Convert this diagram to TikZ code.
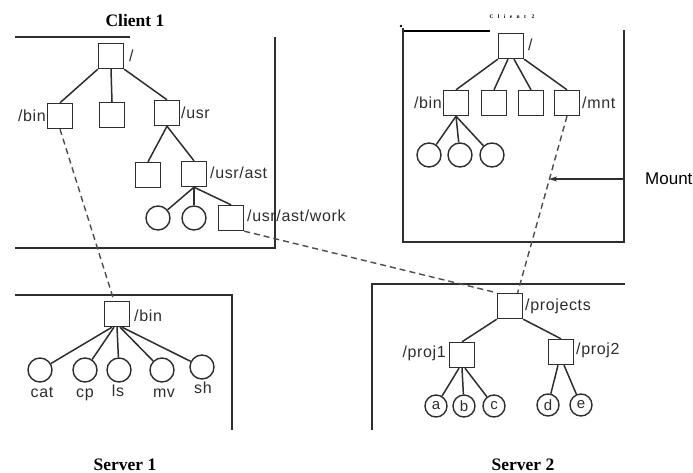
\documentclass[tikz,border=0pt]{standalone}
\usepackage{fontspec}
\usetikzlibrary{arrows.meta}
\newfontfamily\lab[LetterSpace=4]{Liberation Sans}
\newfontfamily\mountfont{Liberation Sans}
\newfontfamily\ser{Liberation Serif}
\newfontfamily\cltwo[LetterSpace=80]{Liberation Serif}
\definecolor{ln}{HTML}{2E2E2E}
\tikzset{
  sq/.style={draw=ln, line width=1.4pt, minimum size=25pt, inner sep=0pt},
  cr/.style={draw=ln, circle, line width=1.4pt, minimum size=24pt, inner sep=0pt},
  crs/.style={draw=ln, circle, line width=1.4pt, minimum size=22pt, inner sep=0pt,
              font=\lab\fontsize{15}{15}\selectfont, text=ln},
  lbl/.style={font=\lab\fontsize{16}{16}\selectfont, text=ln, inner sep=0pt},
  treeline/.style={draw=ln, line width=1.5pt},
  boxline/.style={draw=ln, line width=1.4pt},
  mountline/.style={draw=ln!85, line width=1.4pt, dash pattern=on 6pt off 4pt},
  ttl/.style={font=\ser\bfseries\fontsize{17.5}{17.5}\selectfont, inner sep=0pt}
}
\begin{document}
\begin{tikzpicture}[x=1pt,y=-1pt]
\useasboundingbox (0,0) rectangle (693,473);
\fill[white] (0,0) rectangle (693,473);

% ---------- Client 1 ----------
\node[ttl] (t1) at (135,21) {Client 1};
\draw[boxline] (15,37) -- (130,37);
\draw[boxline] (275,37) -- (275,248) -- (15,248);

\node[sq] (r1) at (111,56) {};
\node[sq] (b1) at (60,116) {};
\node[sq] (m1) at (112,115) {};
\node[sq] (u1) at (167,113) {};
\node[sq] (u1a) at (148,175) {};
\node[sq] (ast) at (194,174) {};
\node[cr] (c1a) at (158,218) {};
\node[cr] (c1b) at (194,218) {};
\node[sq] (work) at (231,218) {};

\node[lbl,anchor=west] (lr1) at (129,56) {/};
\node[lbl,anchor=east] (lb1) at (46,116) {/bin};
\node[lbl,anchor=west] (lu1) at (181,113) {/usr};
\node[lbl,anchor=west] (last) at (210,173) {/usr/ast};
\node[lbl,anchor=west] (lwork) at (247,216) {/usr/ast/work};

\draw[treeline] (r1.south west) -- (b1.north);
\draw[treeline] (r1.south) -- (m1.north);
\draw[treeline] (r1.south east) -- (u1.north);
\draw[treeline] (u1.south) -- (u1a.north);
\draw[treeline] (u1.south) -- (ast.north);
\draw[treeline] (ast.south) -- (c1a);
\draw[treeline] (ast.south) -- (c1b);
\draw[treeline] (ast.south) -- (work.north);

% ---------- Client 2 ----------
\node[font=\cltwo\bfseries\fontsize{5.5}{5.5}\selectfont, inner sep=0pt] (t2) at (512,17) {Client 2};
\fill (401,26) circle (1.3pt);
\draw[line width=2pt] (404,31) -- (490,31);
\draw[boxline] (403,28) -- (403,242) -- (624,242) -- (624,30);

\node[sq] (r2) at (511,46) {};
\node[sq] (b2) at (456,103) {};
\node[sq] (s2a) at (494,103) {};
\node[sq] (s2b) at (531,103) {};
\node[sq] (mnt) at (567,103) {};
\node[cr] (c2a) at (429,155) {};
\node[cr] (c2b) at (460,155) {};
\node[cr] (c2c) at (492,155) {};

\node[lbl,anchor=west] (lr2) at (528,45) {/};
\node[lbl,anchor=east] (lb2) at (442,103) {/bin};
\node[lbl,anchor=west] (lmnt) at (582,103) {/mnt};

\draw[treeline] (r2.south west) -- (b2.north);
\draw[treeline] ([xshift=-3pt]r2.south) -- (s2a.north);
\draw[treeline] ([xshift=3pt]r2.south) -- (s2b.north);
\draw[treeline] (r2.south east) -- (mnt.north);
\draw[treeline] (b2.south) -- (c2a);
\draw[treeline] (b2.south) -- (c2b);
\draw[treeline] (b2.south) -- (c2c);

% Mount arrow
\coordinate (mstart) at (625,179);
\coordinate (mend) at (549,179);
\draw[draw=ln, line width=1.4pt, -{Stealth[length=8pt,width=5pt]}] (mstart) -- (mend);
\node[font=\mountfont\fontsize{17}{17}\selectfont, anchor=west, inner sep=0pt] (mlabel) at (645,179) {Mount};

% ---------- Server 1 ----------
\draw[boxline] (15,295) -- (232,295) -- (232,430);
\node[sq] (sb) at (117,314) {};
\node[lbl,anchor=west] (lsb) at (134,316) {/bin};
\node[cr] (cat) at (40,370) {};
\node[cr] (cp) at (85,370) {};
\node[cr] (ls) at (119,370) {};
\node[cr] (mv) at (162,370) {};
\node[cr] (sh) at (202,367) {};
\node[lbl,anchor=base] (lcat) at (42,397) {cat};
\node[lbl,anchor=base] (lcp) at (85,397) {cp};
\node[lbl,anchor=base] (lls) at (118,396) {ls};
\node[lbl,anchor=base] (lmv) at (164,397) {mv};
\node[lbl,anchor=base] (lsh) at (203,393) {sh};
\draw[treeline] ([xshift=-5pt]sb.south) -- (cat);
\draw[treeline] ([xshift=-3pt]sb.south) -- (cp);
\draw[treeline] (sb.south) -- (ls);
\draw[treeline] ([xshift=3pt]sb.south) -- (mv);
\draw[treeline] ([xshift=5pt]sb.south) -- (sh);
\node[ttl] (ts1) at (125,465) {Server 1};

% ---------- Server 2 ----------
\draw[boxline] (625,284) -- (372,284) -- (372,430);
\node[sq] (proj) at (510,306) {};
\node[sq] (p1) at (462,355) {};
\node[sq] (p2) at (561,352) {};
\node[lbl,anchor=west] (lproj) at (525,306) {/projects};
\node[lbl,anchor=east] (lp1) at (446,353) {/proj1};
\node[lbl,anchor=west] (lp2) at (576,350) {/proj2};
\node[crs] (a) at (436,406) {a};
\node[crs] (b) at (464,406) {b};
\node[crs] (c) at (494,406) {c};
\node[crs] (d) at (548,405) {d};
\node[crs] (e) at (581,405) {e};
\draw[treeline] (proj.south west) -- (p1.north);
\draw[treeline] (proj.south east) -- (p2.north);
\draw[treeline] ([xshift=-3pt]p1.south) -- (a);
\draw[treeline] (p1.south) -- (b);
\draw[treeline] ([xshift=3pt]p1.south) -- (c);
\draw[treeline] ([xshift=-3pt]p2.south) -- (d);
\draw[treeline] ([xshift=3pt]p2.south) -- (e);
\node[ttl] (ts2) at (523,465) {Server 2};

% ---------- Mount links ----------
\draw[mountline] (b1.south) -- ([xshift=-3pt]sb.north);
\draw[mountline] (work.south east) -- (proj.north west);
\draw[mountline] (mnt.south) -- (proj.60);
\end{tikzpicture}
\end{document}
